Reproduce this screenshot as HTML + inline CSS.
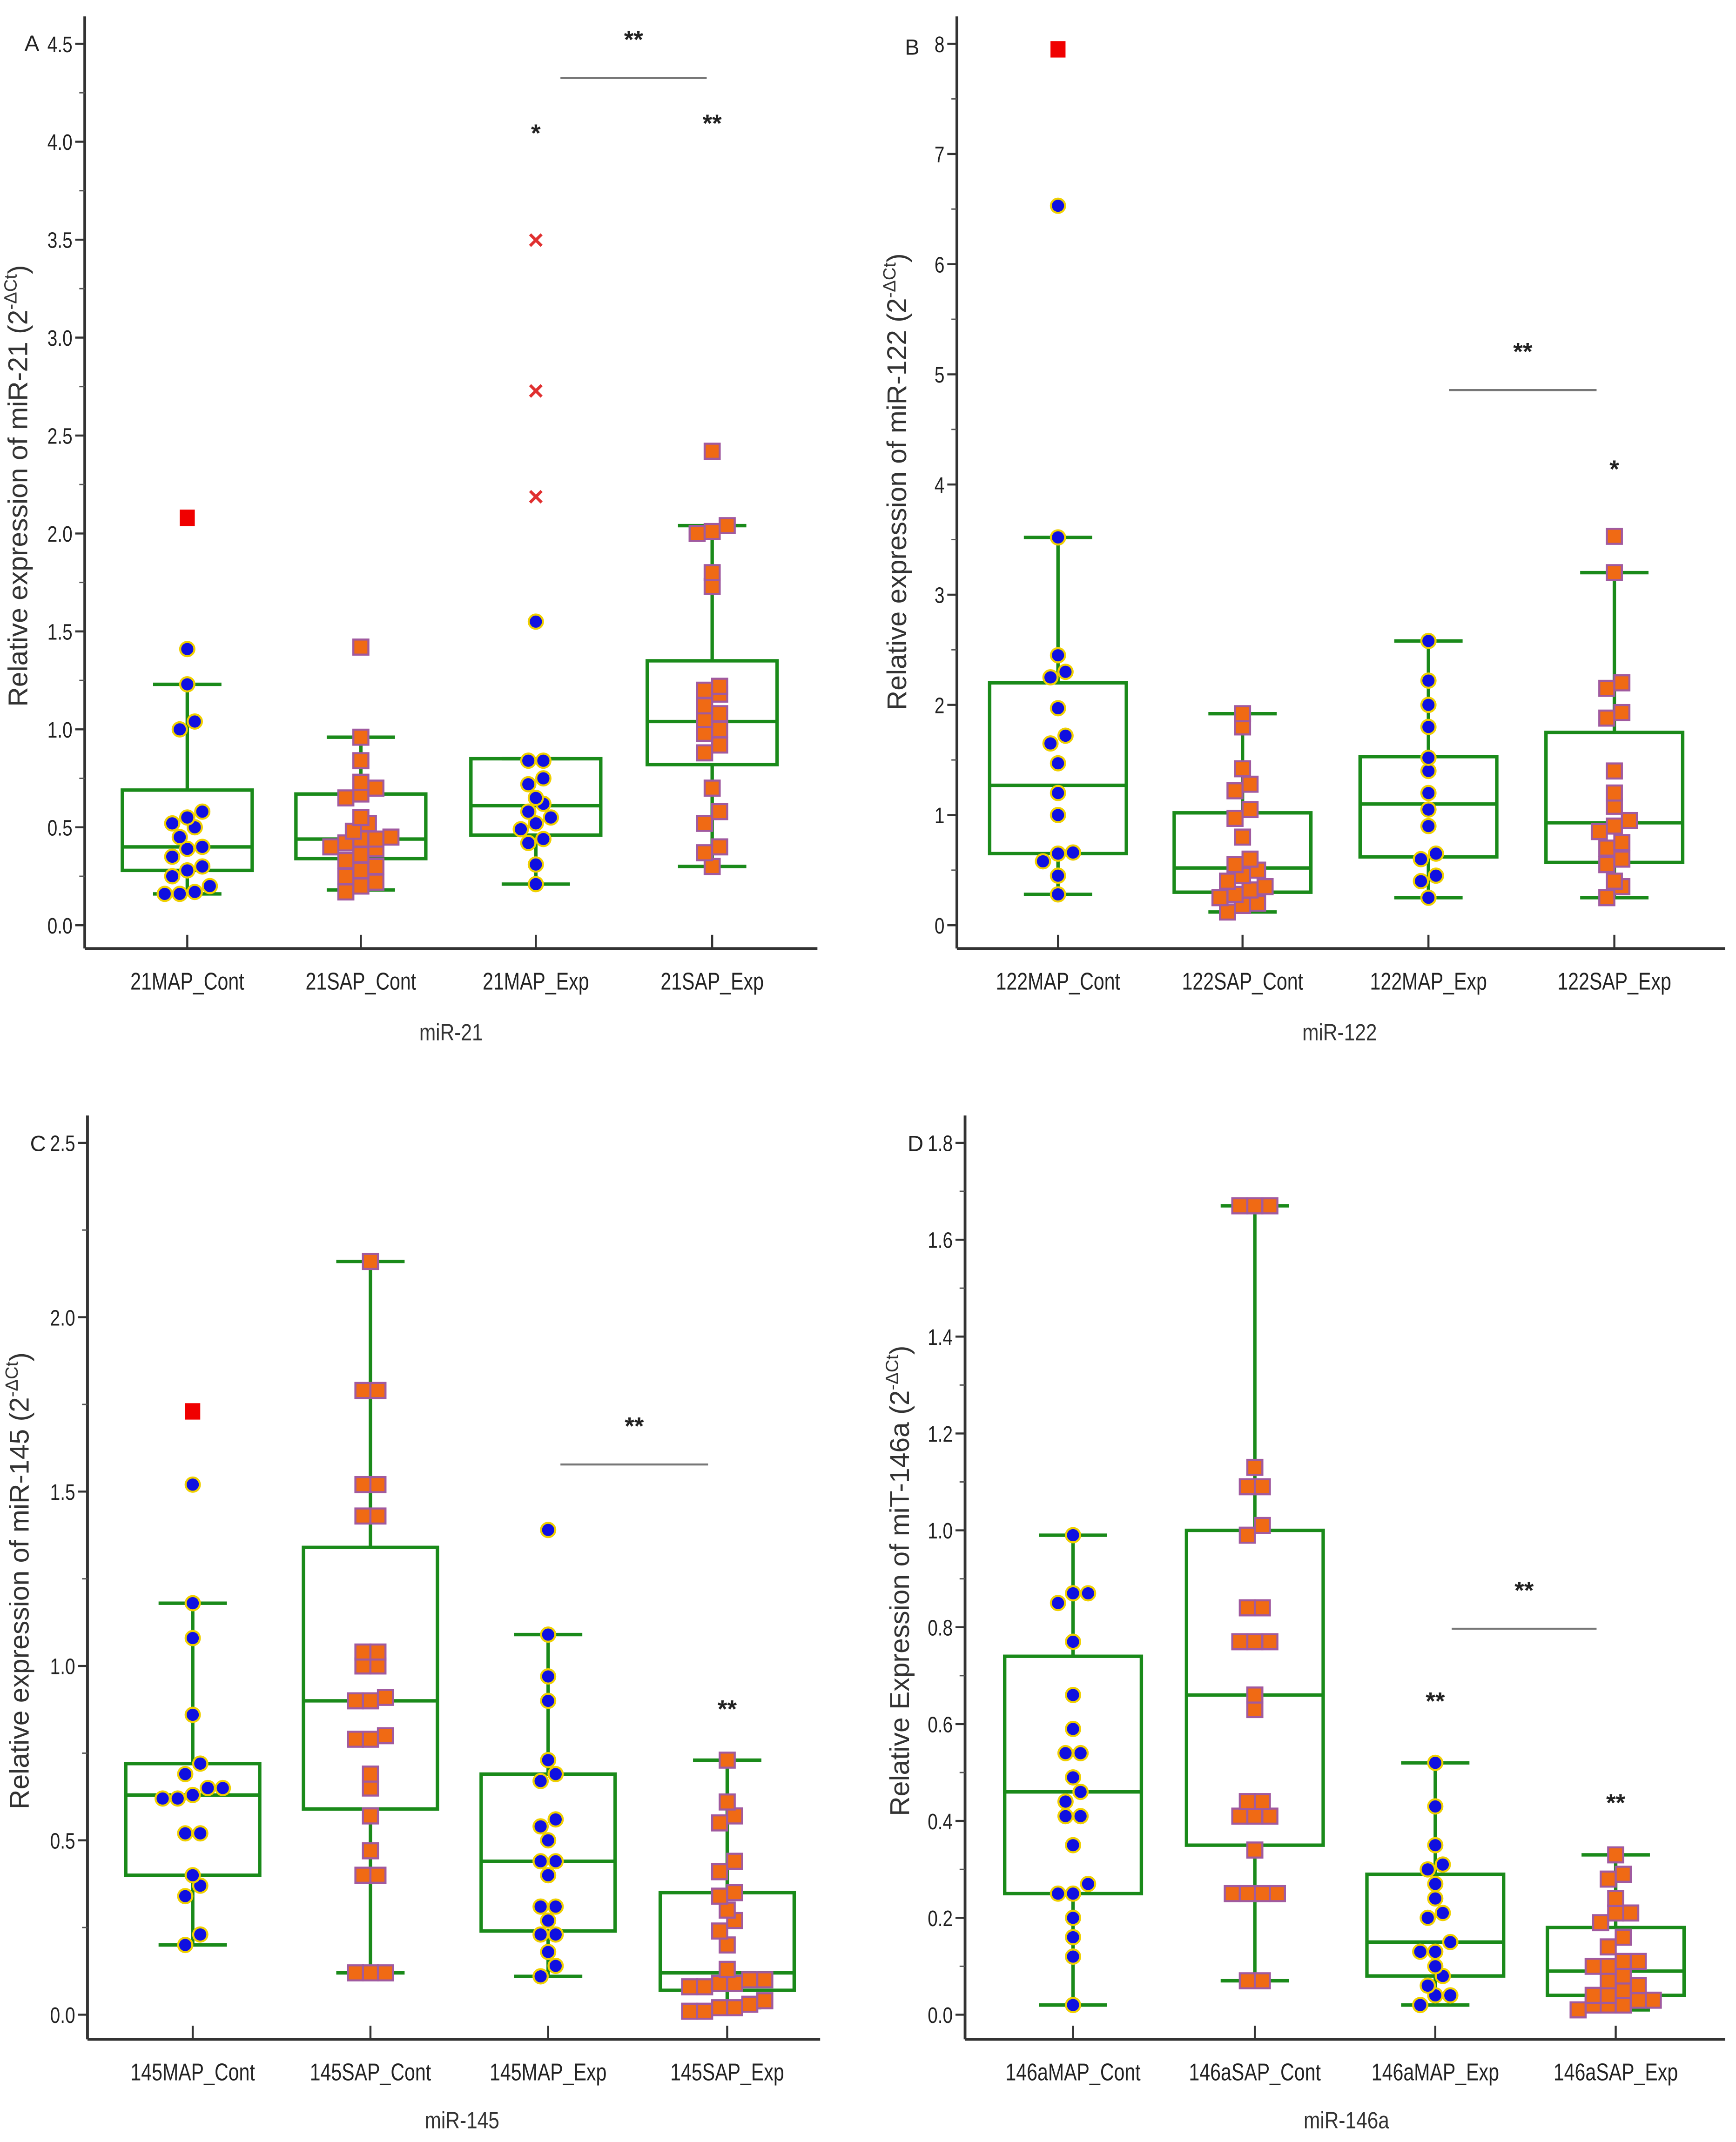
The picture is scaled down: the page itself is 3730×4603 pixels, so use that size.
<!DOCTYPE html>
<html><head><meta charset="utf-8"><style>
html,body{margin:0;padding:0;background:#fff;}
svg{display:block;}
text{font-family:"Liberation Sans",sans-serif;}
</style></head><body>
<svg id="fig" width="3730" height="4603" viewBox="0 0 1270 1565" preserveAspectRatio="none" xmlns="http://www.w3.org/2000/svg"></svg>
<script>
// ---------- Panel A: miR-21 ----------
const catsA = ["21MAP_Cont","21SAP_Cont","21MAP_Exp","21SAP_Exp"];
const boxA = [[0.16,0.28,0.40,0.69,1.23],[0.18,0.34,0.44,0.67,0.96],[0.21,0.46,0.61,0.85,0.85],[0.30,0.82,1.04,1.35,2.04]];
const ptsA0 = [0.16,0.16,0.17,0.20,0.25,0.28,0.30,0.35,0.39,0.40,0.45,0.50,0.52,0.55,0.58,1.00,1.04,1.23,1.41];
const ptsA1 = [0.17,0.20,0.22,0.25,0.28,0.30,0.33,0.36,0.39,0.40,0.42,0.44,0.44,0.45,0.48,0.52,0.55,0.65,0.67,0.70,0.73,0.84,0.96,1.42];
const ptsA2 = [0.21,0.31,0.42,0.44,0.49,0.52,0.55,0.58,0.62,0.65,0.72,0.75,0.84,0.84,1.55];
const ptsA3 = [0.30,0.37,0.40,0.52,0.58,0.70,0.88,0.92,0.98,1.00,1.05,1.08,1.12,1.18,1.20,1.22,1.73,1.80,2.00,2.01,2.04,2.42];
const outA = [[0,2.08,"rsq"],[2,2.19,"x"],[2,2.73,"x"],[2,3.50,"x"]];
const sigA = [[2,4.05,"*"],[3,4.10,"**"]];
const ticksA = ["0.0","0.5","1.0","1.5","2.0","2.5","3.0","3.5","4.0","4.5"];
// ---------- Panel B: miR-122 ----------
const catsB = ["122MAP_Cont","122SAP_Cont","122MAP_Exp","122SAP_Exp"];
const boxB = [[0.28,0.65,1.27,2.20,3.52],[0.12,0.30,0.52,1.02,1.92],[0.25,0.62,1.10,1.53,2.58],[0.25,0.57,0.93,1.75,3.20]];
const ptsB0 = [0.28,0.45,0.58,0.65,0.66,1.00,1.20,1.47,1.65,1.72,1.97,2.25,2.30,2.45,3.52,6.53];
const ptsB1 = [0.12,0.18,0.20,0.25,0.28,0.32,0.35,0.40,0.45,0.50,0.55,0.60,0.80,0.97,1.05,1.22,1.28,1.42,1.80,1.92];
const ptsB2 = [0.25,0.40,0.45,0.60,0.65,0.90,1.05,1.20,1.40,1.52,1.80,2.00,2.22,2.58];
const ptsB3 = [0.25,0.35,0.40,0.55,0.60,0.70,0.75,0.85,0.90,0.95,1.08,1.20,1.40,1.88,1.93,2.15,2.20,3.20,3.53];
const outB = [[0,7.95,"rsq"]];
const sigB = [[3,4.15,"*"]];
const ticksB = ["0","1","2","3","4","5","6","7","8"];
// ---------- Panel C: miR-145 ----------
const catsC = ["145MAP_Cont","145SAP_Cont","145MAP_Exp","145SAP_Exp"];
const boxC = [[0.20,0.40,0.63,0.72,1.18],[0.12,0.59,0.90,1.34,2.16],[0.11,0.24,0.44,0.69,1.09],[0.02,0.07,0.12,0.35,0.73]];
const ptsC0 = [0.20,0.23,0.34,0.37,0.40,0.52,0.52,0.62,0.62,0.63,0.65,0.65,0.69,0.72,0.86,1.08,1.18,1.52];
const ptsC1 = [0.12,0.12,0.12,0.40,0.40,0.47,0.57,0.65,0.69,0.79,0.79,0.80,0.90,0.90,0.91,1.00,1.00,1.04,1.04,1.43,1.43,1.52,1.52,1.79,1.79,2.16];
const ptsC2 = [0.11,0.14,0.18,0.23,0.23,0.27,0.31,0.31,0.40,0.44,0.44,0.50,0.54,0.56,0.67,0.69,0.73,0.90,0.97,1.09,1.39];
const ptsC3 = [0.01,0.01,0.02,0.02,0.03,0.04,0.08,0.08,0.09,0.09,0.10,0.10,0.13,0.20,0.24,0.27,0.30,0.34,0.35,0.41,0.44,0.55,0.57,0.61,0.73];
const outC = [[0,1.73,"rsq"]];
const sigC = [[3,0.88,"**"]];
const ticksC = ["0.0","0.5","1.0","1.5","2.0","2.5"];
// ---------- Panel D: miR-146a ----------
const catsD = ["146aMAP_Cont","146aSAP_Cont","146aMAP_Exp","146aSAP_Exp"];
const boxD = [[0.02,0.25,0.46,0.74,0.99],[0.07,0.35,0.66,1.00,1.67],[0.02,0.08,0.15,0.29,0.52],[0.01,0.04,0.09,0.18,0.33]];
const ptsD0 = [0.02,0.12,0.16,0.20,0.25,0.25,0.27,0.35,0.41,0.41,0.44,0.46,0.49,0.54,0.54,0.59,0.66,0.77,0.85,0.87,0.87,0.99];
const ptsD1 = [0.07,0.07,0.25,0.25,0.25,0.25,0.34,0.41,0.41,0.41,0.44,0.44,0.63,0.66,0.77,0.77,0.77,0.84,0.84,0.99,1.01,1.09,1.09,1.13,1.67,1.67,1.67];
const ptsD2 = [0.02,0.04,0.04,0.06,0.08,0.10,0.13,0.13,0.15,0.20,0.21,0.24,0.27,0.30,0.31,0.35,0.43,0.52];
const ptsD3 = [0.01,0.02,0.02,0.02,0.03,0.03,0.04,0.04,0.05,0.06,0.07,0.08,0.10,0.10,0.11,0.11,0.14,0.16,0.19,0.21,0.21,0.24,0.28,0.29,0.33];
const outD = [];
const sigD = [[2,0.65,"**"],[3,0.44,"**"]];
const ticksD = ["0.0","0.2","0.4","0.6","0.8","1.0","1.2","1.4","1.6","1.8"];

const NS = "http://www.w3.org/2000/svg";
const svg = document.getElementById("fig");
function mk(tag, attrs, parent, txt){
  const e = document.createElementNS(NS, tag);
  for (const k in attrs) e.setAttribute(k, attrs[k]);
  if (txt !== undefined) e.textContent = txt;
  (parent||svg).appendChild(e);
  return e;
}

function panel(cfg){
  const g = mk("g", {});
  
  
  const ppu = (cfg.y0 - cfg.yTop) / cfg.maxV;
  const Y = v => cfg.y0 - v * ppu;
  const X = i => cfg.xc[i];
  const yax = mk("line", {x1:cfg.ax, y1:cfg.axTop, x2:cfg.ax, y2:cfg.axB, stroke:"#333", "stroke-width":2}, g);
  
  
  const xax = mk("line", {x1:cfg.ax, y1:cfg.axB, x2:cfg.axR, y2:cfg.axB, stroke:"#333", "stroke-width":2}, g);
  
  
  const step = cfg.maxV / (cfg.ticks.length - 1);
  cfg.ticks.forEach((t, i) => {
    const y = Y(i * step);
    mk("line", {x1:cfg.ax-7, y1:y, x2:cfg.ax, y2:y, stroke:"#333", "stroke-width":1.5}, g);
    if (i < cfg.ticks.length - 1) { const ym = Y((i + 0.5) * step); mk("line", {x1:cfg.ax-4, y1:ym, x2:cfg.ax, y2:ym, stroke:"#555", "stroke-width":1}, g); }
    const tl = mk("text", {x:cfg.ax-9, y:y+6, "text-anchor":"end", "font-size":16.5, fill:"#222", transform:`translate(${cfg.ax-9},0) scale(0.8,1) translate(${-(cfg.ax-9)},0)`}, g, t);
    
    
  });
  const lt = mk("text", {x:cfg.letter[0], y:cfg.letter[1], "font-size":16, fill:"#222"}, g, cfg.letterT);
  
  
  const yt = mk("text", {x:0, y:0, "font-size":20, fill:"#333", "text-anchor":"middle", transform:`translate(${cfg.yTitle[0]},${cfg.yTitle[1]}) rotate(-90)`}, g);
  
  
  yt.appendChild(document.createTextNode(cfg.yTitleT + " (2"));
  mk("tspan", {"font-size":13, dy:-8}, yt, "-ΔCt");
  mk("tspan", {dy:8}, yt, ")");
  const xt = mk("text", {x:cfg.xTitle[0], y:cfg.xTitle[1], "font-size":17, fill:"#333", "text-anchor":"middle", transform:`translate(${cfg.xTitle[0]},0) scale(0.85,1) translate(${-cfg.xTitle[0]},0)`}, g, cfg.xTitleT);
  
  
  cfg.cats.forEach((c, i) => {
    mk("line", {x1:X(i), y1:cfg.axB-10, x2:X(i), y2:cfg.axB, stroke:"#333", "stroke-width":1.5}, g);
    const cl = mk("text", {x:X(i), y:cfg.axB+30, "font-size":17.5, fill:"#222", "text-anchor":"middle", transform:`translate(${X(i)},0) scale(0.8,1) translate(${-X(i)},0)`}, g, c);
    
    
    const b = cfg.box[i];
    const hw = cfg.bw / 2, cw = 25;
    const bg = mk("g", {stroke:"#1a8a1a", "stroke-width":2.5, fill:"none"}, g);
    
    
    mk("line", {x1:X(i), y1:Y(b[0]), x2:X(i), y2:Y(b[1])}, bg);
    mk("line", {x1:X(i), y1:Y(b[3]), x2:X(i), y2:Y(b[4])}, bg);
    mk("line", {x1:X(i)-cw, y1:Y(b[0]), x2:X(i)+cw, y2:Y(b[0])}, bg);
    mk("line", {x1:X(i)-cw, y1:Y(b[4]), x2:X(i)+cw, y2:Y(b[4])}, bg);
    mk("rect", {x:X(i)-hw, y:Y(b[3]), width:cfg.bw, height:Y(b[1])-Y(b[3])}, bg);
    mk("line", {x1:X(i)-hw, y1:Y(b[2]), x2:X(i)+hw, y2:Y(b[2])}, bg);
    const pts = cfg.pts[i].slice().sort((a, b) => a - b);
    const sq = i % 2 === 1;
    const groups = [];
    pts.forEach(v => {
      const last = groups[groups.length - 1];
      if (last && Y(last[0]) - Y(v) < 9) last.push(v); else groups.push([v]);
    });
    groups.forEach(gr => {
      gr.forEach((v, k) => {
        const x = X(i) + (k - (gr.length - 1) / 2) * 11;
        const y = Y(v);
        let p;
        if (sq) p = mk("rect", {x:x-5.5, y:y-5.5, width:11, height:11, fill:"#f06a14", stroke:"#a05aa0", "stroke-width":1.5}, g);
        else p = mk("circle", {cx:x, cy:y, r:5.2, fill:"#1010e0", stroke:"#f0d000", "stroke-width":1.5}, g);
        
        
      });
    });
  });
  cfg.out.forEach(o => {
    const x = X(o[0]), y = Y(o[1]);
    let p;
    if (o[2] === "rsq") p = mk("rect", {x:x-5.5, y:y-6, width:11, height:12, fill:"#f00000"}, g);
    else p = mk("text", {x:x, y:y+7, "font-size":20, "font-weight":"bold", fill:"#e03030", "text-anchor":"middle"}, g, "×");
    
    
  });
  cfg.sig.forEach(s => {
    const t = mk("text", {x:X(s[0]), y:Y(s[1])+7, "font-size":18, "font-weight":"bold", fill:"#222", "text-anchor":"middle"}, g, s[2]);
    
    
  });
  const br = cfg.bracket;
  const bl = mk("line", {x1:br[0], y1:br[2], x2:br[1], y2:br[2], stroke:"#777", "stroke-width":1.5}, g);
  
  
  const bt = mk("text", {x:(br[0]+br[1])/2, y:br[2]-22, "font-size":18, "font-weight":"bold", fill:"#222", "text-anchor":"middle"}, g, "**");
  
  
}

panel({name:"panel-a-mir21", cats:catsA, box:boxA, pts:[ptsA0,ptsA1,ptsA2,ptsA3], out:outA, sig:sigA, ticks:ticksA,
  maxV:4.5, y0:676, yTop:32, ax:62, axTop:12, axB:693, axR:598, xc:[137,264,392,521], bw:95,
  letter:[18,37], letterT:"A", yTitle:[20,355], yTitleT:"Relative expression of miR-21", xTitle:[330,760], xTitleT:"miR-21", bracket:[410,517,57]});
panel({name:"panel-b-mir122", cats:catsB, box:boxB, pts:[ptsB0,ptsB1,ptsB2,ptsB3], out:outB, sig:sigB, ticks:ticksB,
  maxV:8, y0:676, yTop:32, ax:700, axTop:12, axB:693, axR:1262, xc:[774,909,1045,1181], bw:100,
  letter:[662,40], letterT:"B", yTitle:[663,352], yTitleT:"Relative expression of miR-122", xTitle:[980,760], xTitleT:"miR-122", bracket:[1060,1168,285]});
panel({name:"panel-c-mir145", cats:catsC, box:boxC, pts:[ptsC0,ptsC1,ptsC2,ptsC3], out:outC, sig:sigC, ticks:ticksC,
  maxV:2.5, y0:1472, yTop:835, ax:64, axTop:815, axB:1490, axR:600, xc:[141,271,401,532], bw:98,
  letter:[22,841], letterT:"C", yTitle:[21,1155], yTitleT:"Relative expression of miR-145", xTitle:[338,1555], xTitleT:"miR-145", bracket:[410,518,1070]});
panel({name:"panel-d-mir146a", cats:catsD, box:boxD, pts:[ptsD0,ptsD1,ptsD2,ptsD3], out:outD, sig:sigD, ticks:ticksD,
  maxV:1.8, y0:1472, yTop:835, ax:706, axTop:815, axB:1490, axR:1262, xc:[785,918,1050,1182], bw:100,
  letter:[664,841], letterT:"D", yTitle:[665,1155], yTitleT:"Relative Expression of miT-146a", xTitle:[985,1555], xTitleT:"miR-146a", bracket:[1062,1168,1190]});
</script>
</body></html>
